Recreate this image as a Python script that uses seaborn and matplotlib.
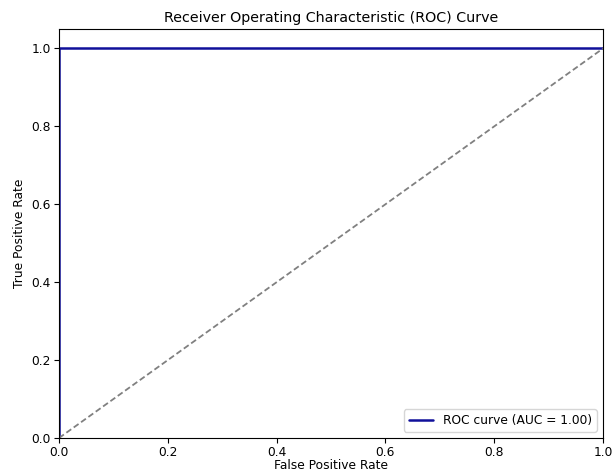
import matplotlib
matplotlib.use("Agg")
import matplotlib.pyplot as plt
import seaborn as sns
import pandas as pd

fpr = [0.0, 0.0, 1.0]
tpr = [0.0, 1.0, 1.0]
diag = [0.0, 1.0]
auc_value = 1.00

sns.set_style("ticks", rc={
    "axes.edgecolor": "black", "xtick.color": "black", "ytick.color": "black",
    "text.color": "black", "axes.labelcolor": "black",
})
plt.rcParams['font.family'] = ['DejaVu Sans']

fig = plt.figure(figsize=(6.13, 4.74), dpi=100)
ax = fig.add_axes([0.0963, 0.076, 0.8874, 0.8628])

df = pd.DataFrame({"fpr": fpr, "tpr": tpr})
sns.lineplot(data=df, x="fpr", y="tpr", ax=ax, color="#10109a", lw=1.8,
             label=f"ROC curve (AUC = {auc_value:.2f})", sort=False, estimator=None)
ax.plot(diag, diag, color="gray", lw=1.3, linestyle=(0, (3.3, 1.7)))
ax.set_xlim(0.0, 1.0)
ax.set_ylim(0.0, 1.05)
ax.set_xlabel("False Positive Rate", fontsize=8.8)
ax.set_ylabel("True Positive Rate", fontsize=8.8)
ax.xaxis.set_label_coords(0.5, -0.052)
ax.set_title("Receiver Operating Characteristic (ROC) Curve", fontsize=10.3, pad=5)
ax.tick_params(labelsize=8.8, width=0.8, length=3.5, pad=2.5)
for s in ax.spines.values():
    s.set_visible(True)
    s.set_linewidth(0.8)
ax.legend(loc="lower right", fontsize=8.8)

fig.savefig("out.png", dpi=100)
